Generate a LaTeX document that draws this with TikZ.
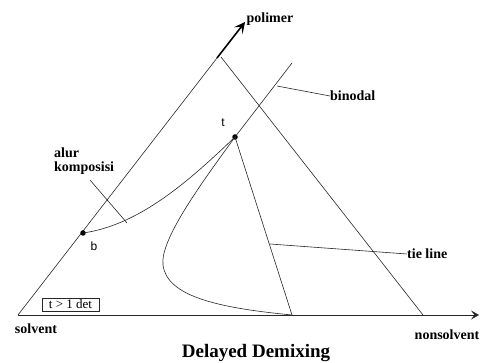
\documentclass[tikz,border=0pt]{standalone}
\usepackage{fontspec}
\setmainfont{Liberation Serif}
\newfontfamily\lsans{Liberation Sans}
\usetikzlibrary{arrows.meta}
\begin{document}
\begin{tikzpicture}[x=1pt,y=-1pt,
  thin line/.style={line width=0.6pt, black!85},
  lbl/.style={font=\fontsize{14}{16}\selectfont\bfseries, inner sep=0pt},
  pt/.style={circle, fill=black, inner sep=0pt, minimum size=5.5pt},
  tip/.style={-{Stealth[length=8pt,width=9pt,inset=3.5pt]}},
  bigtip/.style={-{Stealth[length=11pt,width=11pt,inset=5pt,line width=0pt]}}]
\useasboundingbox (0,0) rectangle (480,363);
% corners
\coordinate (S) at (18,315);
\coordinate (A) at (217,58);
\coordinate (AR) at (221,57);
\coordinate (P) at (245,22);
\coordinate (N) at (423,315);
\coordinate (E) at (479,315);
% triangle
\draw[thin line] (S) -- (A);
\draw[line width=1.6pt, bigtip] (A) -- (P);
\draw[thin line] (AR) -- (N);
\draw[thin line, tip] (S) -- (E);
% points
\node[pt] (b) at (83,233) {};
\node[pt] (t) at (235,137) {};
% binodal
\coordinate (B0) at (292,63);
\coordinate (BL) at (163,265);
\coordinate (BE) at (292,315);
\draw[thin line] (B0) -- (t.center) .. controls (200,185) and (160,240) .. (BL)
  .. controls (167,297) and (220,308) .. (BE);
% composition path
\draw[thin line] (b.center) .. controls (140,225) and (190,180) .. (t.center);
% tie line
\draw[thin line] (t.center) -- (BE);
% labels
\node[lbl] (pol) at (270,19) {polimer};
\node[lbl, anchor=west] (bin) at (330,96) {binodal};
\coordinate (binL) at (277,86);
\draw[thin line] (binL) -- (bin.west);
\node[lbl, anchor=west] (alur) at (54,153) {alur};
\node[lbl, anchor=west] (komp) at (54,168) {komposisi};
\coordinate (kA) at (90,180);
\coordinate (kB) at (127,223);
\draw[thin line] (kA) -- (kB);
\node[lbl, anchor=west] (tie) at (407,254) {tie line};
\coordinate (tieL) at (270,244);
\draw[thin line] (tieL) -- (tie.west);
\node[font=\lsans\fontsize{12}{14}\selectfont, inner sep=0pt] (bl) at (94,246) {b};
\node[font=\lsans\fontsize{12}{14}\selectfont, inner sep=0pt] (tl) at (223,123) {t};
\node[draw, thin line, text=black, font=\fontsize{13}{15}\selectfont, inner sep=1pt,
  minimum width=57pt, minimum height=13pt] (box) at (70.5,304.5) {t > 1 det};
\node[lbl] (sol) at (36,329) {solvent};
\node[lbl] (non) at (447,335) {nonsolvent};
\node[font=\fontsize{19}{21}\selectfont\bfseries, inner sep=0pt] (title) at (256,353) {Delayed Demixing};
\end{tikzpicture}
\end{document}
